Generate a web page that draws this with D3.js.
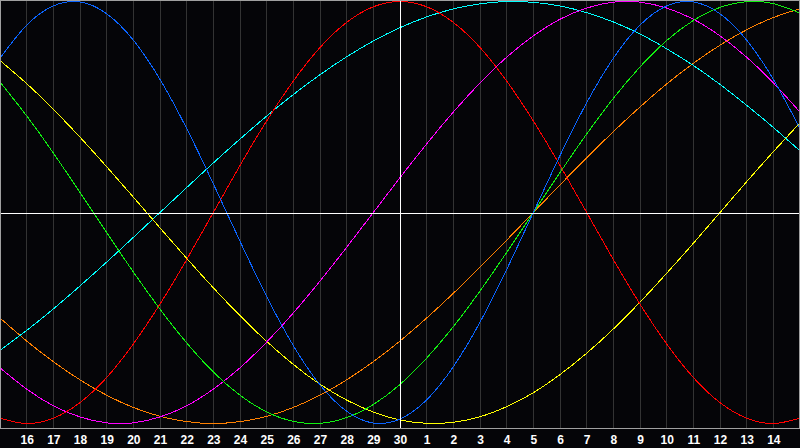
<!DOCTYPE html>
<html>
<head>
<meta charset="utf-8">
<script src="https://cdn.jsdelivr.net/npm/d3@7"></script>
<style>
    html, body { margin: 0; padding: 0; background: #000; }
    #chart { width: 800px; height: 448px; }
</style>
</head>
<body>
<div id="chart"></div>
<script>

// Day labels, one per column (first and last sit on the edges, unlabeled)

const days = [15, 16, 17, 18, 19, 20, 21, 22, 23, 24, 25, 26, 27, 28, 29, 30,
              1, 2, 3, 4, 5, 6, 7, 8, 9, 10, 11, 12, 13, 14, 15];

// Cycle values per day (-1 .. 1)

const physical = [0.731, 0.888, 0.979, 0.998, 0.942, 0.817, 0.631, 0.398, 0.136, -0.136, -0.398, -0.631, -0.817, -0.942, -0.998, -0.979,
                  -0.888, -0.731, -0.520, -0.270, 0.000, 0.270, 0.520, 0.731, 0.888, 0.979, 0.998, 0.942, 0.817, 0.631, 0.398];

const emotional = [-0.975, -1.000, -0.975, -0.901, -0.782, -0.623, -0.434, -0.223, 0.000, 0.223, 0.434, 0.623, 0.782, 0.901, 0.975, 1.000,
                   0.975, 0.901, 0.782, 0.623, 0.434, 0.223, 0.000, -0.223, -0.434, -0.623, -0.782, -0.901, -0.975, -1.000, -0.975];

const intellectual = [0.618, 0.458, 0.282, 0.095, -0.095, -0.282, -0.458, -0.618, -0.756, -0.866, -0.945, -0.990, -0.999, -0.972, -0.910, -0.815,
                      -0.690, -0.541, -0.372, -0.189, 0.000, 0.189, 0.372, 0.541, 0.690, 0.815, 0.910, 0.972, 0.999, 0.990, 0.945];

const intuitive = [-0.736, -0.837, -0.916, -0.969, -0.997, -0.997, -0.969, -0.916, -0.837, -0.736, -0.614, -0.476, -0.325, -0.165, 0.000, 0.165,
                   0.325, 0.476, 0.614, 0.736, 0.837, 0.916, 0.969, 0.997, 0.997, 0.969, 0.916, 0.837, 0.736, 0.614, 0.476];

const aesthetic = [0.720, 0.611, 0.489, 0.357, 0.217, 0.073, -0.073, -0.217, -0.357, -0.489, -0.611, -0.720, -0.814, -0.889, -0.946, -0.983,
                   -0.999, -0.994, -0.968, -0.920, -0.854, -0.768, -0.667, -0.552, -0.425, -0.288, -0.146, 0.000, 0.146, 0.288, 0.425];

const awareness = [-0.500, -0.609, -0.707, -0.793, -0.866, -0.924, -0.966, -0.991, -1.000, -0.991, -0.966, -0.924, -0.866, -0.793, -0.707, -0.609,
                   -0.500, -0.383, -0.259, -0.131, 0.000, 0.131, 0.259, 0.383, 0.500, 0.609, 0.707, 0.793, 0.866, 0.924, 0.966];

const spiritual = [-0.653, -0.559, -0.457, -0.348, -0.235, -0.118, 0.000, 0.118, 0.235, 0.348, 0.457, 0.559, 0.653, 0.738, 0.813, 0.876,
                   0.927, 0.965, 0.989, 1.000, 0.996, 0.979, 0.947, 0.903, 0.846, 0.776, 0.697, 0.607, 0.508, 0.403, 0.292];

// Index of today's column
const today = 15;

class Biorhythm {

    constructor(container) {

        this.container = container;

        // Configure

        this.dimensions = {
            width: 800,
            height: 448,
        }

        this.plot = {
            top: 1.5,
            bottom: 423.5,
            axis: 428,
        }

        this.design = {
            background: "#050508",
            grid: "#333333",
            frame: "#a0a0a0",
            center: "#ffffff",
            colors: {
                physical: "#0a64ff",
                emotional: "#ff0000",
                intellectual: "#10f010",
                intuitive: "#ff00ff",
                aesthetic: "#ffff00",
                awareness: "#ff8000",
                spiritual: "#00ffff",
            },
            interpolation: d3.curveNatural,
        }

        // Create graph

        this.graph = d3.select(container).append("svg")
            .attr("width", this.dimensions.width)
            .attr("height", this.dimensions.height)
            .style("display", "block");

        // Create scales

        this.xScale = d3.scaleLinear()
            .domain([0, days.length - 1])
            .range([0, this.dimensions.width]);

        this.yScale = d3.scaleLinear()
            .domain([-1, 1])
            .range([this.plot.bottom, this.plot.top]);
    }

    render(series) {

        const px = v => Math.floor(v) + 0.5;

        // Background

        this.graph.append("rect")
            .attr("width", this.dimensions.width)
            .attr("height", this.dimensions.height)
            .attr("fill", this.design.background);

        // Day grid

        this.graph.append("g")
            .selectAll("line")
            .data(d3.range(1, days.length - 1))
            .enter()
            .append("line")
            .attr("x1", i => px(this.xScale(i)))
            .attr("x2", i => px(this.xScale(i)))
            .attr("y1", 0)
            .attr("y2", this.plot.axis)
            .attr("stroke", this.design.grid)
            .attr("shape-rendering", "crispEdges");

        // Curves

        const line = d3.line()
            .curve(this.design.interpolation)
            .x((v, i) => this.xScale(i))
            .y(v => this.yScale(v));

        this.graph.append("g")
            .selectAll("path")
            .data(series)
            .enter()
            .append("path")
            .attr("fill", "none")
            .attr("stroke", s => this.design.colors[s.name])
            .attr("stroke-width", 1)
            .attr("shape-rendering", "crispEdges")
            .attr("d", s => line(s.values));

        // Center lines (today and zero)

        this.graph.append("line")
            .attr("x1", px(this.xScale(today)))
            .attr("x2", px(this.xScale(today)))
            .attr("y1", 0)
            .attr("y2", this.plot.axis)
            .attr("stroke", this.design.center)
            .attr("shape-rendering", "crispEdges");

        this.graph.append("line")
            .attr("x1", 0)
            .attr("x2", this.dimensions.width)
            .attr("y1", Math.round(this.yScale(0)) + 0.5)
            .attr("y2", Math.round(this.yScale(0)) + 0.5)
            .attr("stroke", this.design.center)
            .attr("shape-rendering", "crispEdges");

        // Frame

        this.graph.append("rect")
            .attr("x", 0.5)
            .attr("y", 0.5)
            .attr("width", this.dimensions.width - 1)
            .attr("height", this.plot.axis)
            .attr("fill", "none")
            .attr("stroke", this.design.frame)
            .attr("shape-rendering", "crispEdges");

        // Add x-axis

        const xAxis = d3.axisBottom()
            .scale(this.xScale)
            .tickValues(d3.range(1, days.length - 1))
            .tickSize(0)
            .tickPadding(7)
            .tickFormat(i => days[i]);

        const axis = this.graph.append("g")
            .attr("transform", "translate(0, " + this.plot.axis + ")")
            .call(xAxis);

        axis.select(".domain").remove();

        axis.selectAll("text")
            .attr("fill", "#ffffff")
            .style("font-family", "'Liberation Sans', Arial, sans-serif")
            .style("font-weight", "bold")
            .style("font-size", "12px");
    }
}

const chart = new Biorhythm(document.getElementById("chart"));

chart.render([
    { name: "awareness", values: awareness },
    { name: "spiritual", values: spiritual },
    { name: "aesthetic", values: aesthetic },
    { name: "intuitive", values: intuitive },
    { name: "intellectual", values: intellectual },
    { name: "emotional", values: emotional },
    { name: "physical", values: physical },
]);

</script>
</body>
</html>
